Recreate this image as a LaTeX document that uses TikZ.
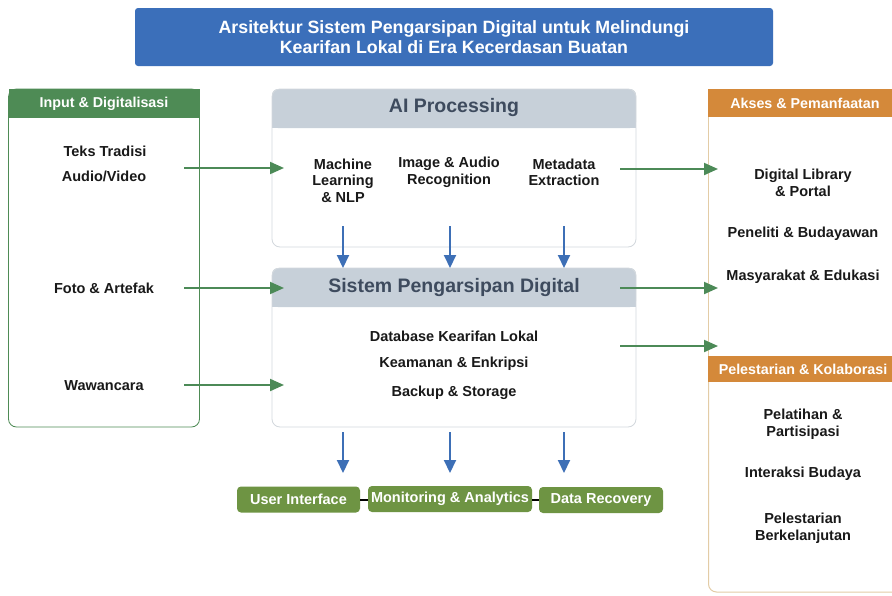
\documentclass[tikz,border=0pt]{standalone}
\usepackage{fontspec}
\setmainfont{Liberation Sans}
\usetikzlibrary{arrows.meta}
\definecolor{titleblue}{HTML}{3B6FBA}
\definecolor{grn}{HTML}{4E8B55}
\definecolor{garr}{HTML}{4C8A57}
\definecolor{orng}{HTML}{D4893A}
\definecolor{tan}{HTML}{E3CCA6}
\definecolor{hgray}{HTML}{C7D0D9}
\definecolor{htext}{HTML}{3E4B5E}
\definecolor{olive}{HTML}{6E9443}
\definecolor{barr}{HTML}{3D6FB6}
\definecolor{bgray}{HTML}{D3D8DD}
\tikzset{
  item/.style={font=\bfseries\fontsize{14.5}{16.5}\selectfont, text=black!90, align=center, inner sep=0pt},
  sidehdr/.style={font=\bfseries\fontsize{14.3}{16}\selectfont, text=white, inner sep=0pt},
  bighdr/.style={font=\bfseries\fontsize{19.5}{22}\selectfont, text=htext, inner sep=0pt},
  garrow/.style={draw=garr, line width=2pt, -{Triangle[length=14pt,width=12pt]}},
  barrow/.style={draw=barr, line width=2pt, -{Triangle[length=13pt,width=12pt]}},
  outbox/.style={fill=olive, rounded corners=4pt, text=white, font=\bfseries\fontsize{14.5}{16}\selectfont, minimum height=26pt, inner sep=0pt},
}
\begin{document}
\begin{tikzpicture}[x=1pt,y=-1pt]
\useasboundingbox (0,0) rectangle (892,595);
\clip (0,0) rectangle (892,595);
\fill[white] (0,0) rectangle (892,595);

% Title
\node[fill=titleblue, rounded corners=3pt, minimum width=638pt, minimum height=58pt, text=white,
  font=\bfseries\fontsize{17.8}{19.5}\selectfont, align=center] (title) at (454,37)
  {Arsitektur Sistem Pengarsipan Digital untuk Melindungi\\Kearifan Lokal di Era Kecerdasan Buatan};

% Left box
\node[draw=grn, line width=0.8pt, rounded corners=8pt, minimum width=191pt, minimum height=338pt] (inp) at (104,258) {};
\fill[grn] (8.5,89) rectangle (199.5,118);
\node[sidehdr] (inph) at (104,103.5) {Input \& Digitalisasi};
\node[item] (teks) at (105,151) {Teks Tradisi};
\node[item] (audio) at (104,176) {Audio/Video};
\node[item] (foto) at (104,288) {Foto \& Artefak};
\node[item] (waw) at (104,386) {Wawancara};

% AI Processing box
\fill[hgray, rounded corners=6pt] (272,89) rectangle (636,128);
\fill[hgray] (272,110) rectangle (636,128);
\node[draw=bgray, line width=0.8pt, rounded corners=8pt, minimum width=364pt, minimum height=158pt] (ai) at (454,168) {};
\node[bighdr] (aih) at (454,107) {AI Processing};
\node[item] (ml) at (343,180.5) {Machine\\Learning\\\& NLP};
\node[item] (img) at (449,172.5) {Image \& Audio\\Recognition};
\node[item] (meta) at (564,172.5) {Metadata\\Extraction};

% Sistem box
\fill[hgray, rounded corners=6pt] (272,268) rectangle (636,307);
\fill[hgray] (272,290) rectangle (636,307);
\node[draw=bgray, line width=0.8pt, rounded corners=8pt, minimum width=364pt, minimum height=159pt] (sis) at (454,347.5) {};
\node[bighdr] (sish) at (454,287) {Sistem Pengarsipan Digital};
\node[item] (db) at (454,336) {Database Kearifan Lokal};
\node[item] (kea) at (454,364) {Keamanan \& Enkripsi};
\node[item] (bak) at (454,392.5) {Backup \& Storage};

% Right boxes
\draw[tan, line width=1pt] (708.5,356) -- (708.5,89);
\fill[orng] (708,89) rectangle (900,117);
\node[sidehdr] (aksh) at (805,103) {Akses \& Pemanfaatan};
\node[item] (dl) at (803,183) {Digital Library\\\& Portal};
\node[item] (pen) at (803,234) {Peneliti \& Budayawan};
\node[item] (mas) at (803,277) {Masyarakat \& Edukasi};

\draw[tan, line width=1pt, rounded corners=8pt] (708.5,356) -- (708.5,592) -- (900,592);
\fill[orng] (708,356) rectangle (900,382);
\node[sidehdr] (pelh) at (803,369.5) {Pelestarian \& Kolaborasi};
\node[item] (pel) at (803,424) {Pelatihan \&\\Partisipasi};
\node[item] (int) at (803,474) {Interaksi Budaya};
\node[item] (lest) at (803,528) {Pelestarian\\Berkelanjutan};

% Bottom boxes
\node[outbox, minimum width=123pt] (ui) at (298.5,499.5) {User Interface};
\node[outbox, minimum width=164pt] (mon) at (450,499) {Monitoring \& Analytics};
\node[outbox, minimum width=124pt] (rec) at (601,500) {Data Recovery};
\draw[black, line width=2pt] (ui.east |- 0,500) -- (mon.west |- 0,500);
\draw[black, line width=2pt] (mon.east |- 0,500) -- (rec.west |- 0,500);

% Green arrows (left)
\coordinate (l1) at (184,168); \coordinate (l1e) at (284,168);
\coordinate (l2) at (184,288); \coordinate (l2e) at (284,288);
\coordinate (l3) at (184,385); \coordinate (l3e) at (284,385);
\draw[garrow] (l1) -- (l1e);
\draw[garrow] (l2) -- (l2e);
\draw[garrow] (l3) -- (l3e);
% Green arrows (right)
\coordinate (r1) at (620,169); \coordinate (r1e) at (718,169);
\coordinate (r2) at (620,288); \coordinate (r2e) at (718,288);
\coordinate (r3) at (620,346); \coordinate (r3e) at (718,346);
\draw[garrow] (r1) -- (r1e);
\draw[garrow] (r2) -- (r2e);
\draw[garrow] (r3) -- (r3e);

% Blue arrows
\foreach \x/\n in {343/a,450/b,564/c}{
  \coordinate (u\n) at (\x,226);
  \draw[barrow] (u\n) -- (\x,268);
  \coordinate (d\n) at (\x,432);
  \draw[barrow] (d\n) -- (\x,473);
}
\end{tikzpicture}
\end{document}
